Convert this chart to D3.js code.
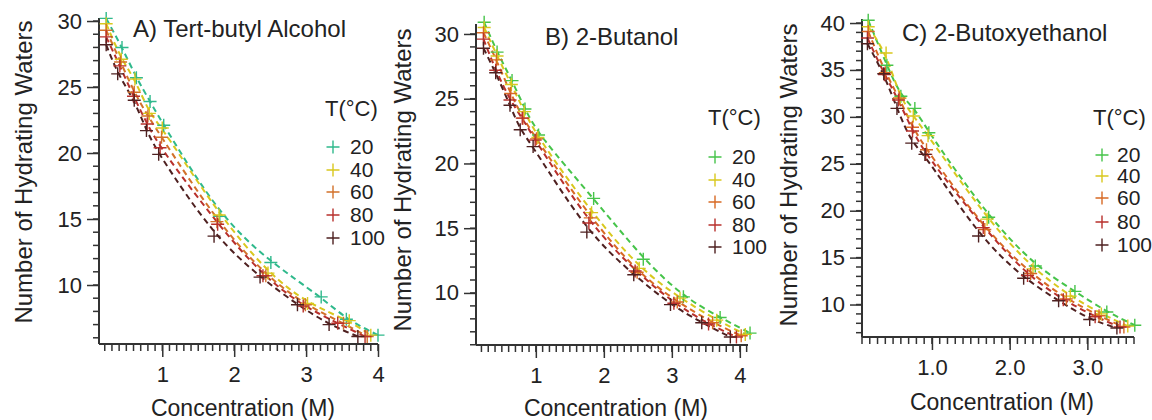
<!DOCTYPE html>
<html>
<head>
<meta charset="utf-8">
<script src="https://cdn.jsdelivr.net/npm/d3@7"></script>
<style>
  body { margin: 0; background: #fff; }
  text { font-family: "Liberation Sans", Arial, sans-serif; fill: #222; }
</style>
</head>
<body>
<div id="chart"></div>
<script>
// Temperatures (legend) and data for each panel: one array per temperature
const temps = [20, 40, 60, 80, 100];

// A) Tert-butyl Alcohol
const tbaConc = [
  [0.22, 0.44, 0.64, 0.83, 1.02, 1.80, 2.51, 3.21, 3.56, 4.00],
  [0.22, 0.43, 0.62, 0.82, 1.00, 1.79, 2.47, 3.02, 3.60, 3.90],
  [0.22, 0.42, 0.61, 0.80, 0.99, 1.76, 2.44, 2.99, 3.52, 3.85],
  [0.22, 0.41, 0.60, 0.79, 0.97, 1.77, 2.40, 2.96, 3.44, 3.82],
  [0.22, 0.38, 0.61, 0.78, 0.95, 1.72, 2.36, 2.88, 3.32, 3.72]
];
const tbaWaters = [
  [30.2, 28.0, 25.7, 23.9, 22.1, 15.2, 11.7, 9.1, 7.4, 6.2],
  [29.8, 27.1, 25.6, 23.0, 21.9, 15.3, 10.9, 8.6, 7.3, 6.2],
  [29.3, 26.9, 24.6, 22.8, 21.2, 14.8, 10.7, 8.5, 7.1, 6.1],
  [28.8, 26.6, 24.3, 22.2, 20.4, 14.6, 10.7, 8.4, 7.1, 6.1],
  [28.2, 26.0, 24.0, 21.7, 19.9, 13.7, 10.6, 8.5, 7.0, 6.1]
];

// B) 2-Butanol
const butConc = [
  [0.24, 0.43, 0.65, 0.84, 1.04, 1.85, 2.58, 3.17, 3.71, 4.15],
  [0.24, 0.43, 0.64, 0.83, 1.03, 1.82, 2.52, 3.12, 3.66, 4.08],
  [0.23, 0.42, 0.63, 0.81, 1.01, 1.80, 2.49, 3.08, 3.60, 4.02],
  [0.23, 0.41, 0.62, 0.80, 0.99, 1.78, 2.46, 3.03, 3.54, 3.95],
  [0.23, 0.41, 0.62, 0.77, 0.96, 1.75, 2.44, 2.98, 3.44, 3.86]
];
const butWaters = [
  [30.9, 28.6, 26.4, 24.2, 22.2, 17.3, 12.6, 9.7, 8.1, 6.9],
  [30.5, 28.3, 26.1, 24.0, 22.0, 16.2, 11.9, 9.6, 7.9, 6.8],
  [30.1, 28.0, 25.4, 23.5, 21.9, 15.8, 11.6, 9.3, 7.7, 6.7],
  [29.6, 27.2, 24.9, 23.5, 21.8, 15.4, 11.7, 9.2, 7.6, 6.6],
  [28.9, 27.0, 24.5, 22.6, 21.3, 14.7, 11.4, 9.1, 7.7, 6.6]
];

// C) 2-Butoxyethanol
const boeConc = [
  [0.18, 0.42, 0.60, 0.78, 0.96, 1.73, 2.33, 2.84, 3.25, 3.61],
  [0.18, 0.41, 0.59, 0.76, 0.95, 1.71, 2.30, 2.78, 3.18, 3.52],
  [0.18, 0.40, 0.58, 0.75, 0.93, 1.68, 2.27, 2.73, 3.15, 3.47],
  [0.17, 0.39, 0.57, 0.75, 0.92, 1.66, 2.23, 2.69, 3.10, 3.42],
  [0.17, 0.38, 0.55, 0.74, 0.91, 1.60, 2.18, 2.63, 3.03, 3.38]
];
const boeWaters = [
  [40.3, 35.5, 32.2, 30.9, 28.3, 19.3, 14.1, 11.4, 9.2, 7.8],
  [39.6, 36.8, 32.0, 30.1, 28.0, 19.1, 13.8, 10.9, 9.0, 7.7],
  [39.1, 34.7, 32.0, 28.9, 26.5, 18.0, 13.3, 10.6, 8.8, 7.6],
  [38.4, 34.5, 31.8, 28.5, 26.0, 18.2, 13.1, 10.5, 8.7, 7.6],
  [37.8, 34.6, 30.9, 27.2, 26.0, 17.3, 12.8, 10.4, 8.4, 7.5]
];

// Colors per temperature
const colorsA = ["#2fb98c", "#d9c81e", "#d2712a", "#b8302c", "#4e2020"];
const colorsBC = ["#46c44a", "#d9c81e", "#d86a24", "#b8302c", "#4e2020"];

const width = 1152, height = 420;
const svg = d3.select("#chart").append("svg")
    .attr("width", width)
    .attr("height", height);

const panels = [
  {
    title: "A) Tert-butyl Alcohol", conc: tbaConc, waters: tbaWaters, colors: colorsA,
    xDomain: [0.12, 4.0], xRange: [99, 378], yDomain: [5.53, 30.23], yRange: [344, 18],
    xMajor: [1, 2, 3, 4], xFmt: d3.format("d"), xMinor: 0.1,
    yMajor: [10, 15, 20, 25, 30], yMinor: 1,
    titlePos: [133, 29], yLabelPos: [24, 172], xLabelPos: [243, 408],
    legend: { x: 325, y: 108, mx: 333, tx: 350, ys: [147, 170, 192, 215, 238] }
  },
  {
    title: "B) 2-Butanol", conc: butConc, waters: butWaters, colors: colorsBC,
    xDomain: [0.12, 4.12], xRange: [476, 748], yDomain: [5.98, 30.77], yRange: [345, 24],
    xMajor: [1, 2, 3, 4], xFmt: d3.format("d"), xMinor: 0.1,
    yMajor: [10, 15, 20, 25, 30], yMinor: 1,
    titlePos: [545, 37], yLabelPos: [403, 180], xLabelPos: [616, 408],
    legend: { x: 708, y: 117, mx: 715, tx: 732, ys: [157, 180, 202, 225, 247] }
  },
  {
    title: "C) 2-Butoxyethanol", conc: boeConc, waters: boeWaters, colors: colorsBC,
    xDomain: [0.1, 3.6], xRange: [862, 1134], yDomain: [6.54, 40.43], yRange: [337, 19],
    xMajor: [1, 2, 3], xFmt: d3.format(".1f"), xMinor: 0.1,
    yMajor: [10, 15, 20, 25, 30, 35, 40], yMinor: 1,
    titlePos: [902, 33], yLabelPos: [789, 175], xLabelPos: [1002, 402],
    legend: { x: 1093, y: 117, mx: 1102, tx: 1117, ys: [155, 176, 198, 222, 245] }
  }
];

const axisColor = "#333";

function range(lo, hi, step) {
  const out = [];
  for (let v = Math.ceil(lo / step - 1e-9) * step; v <= hi + 1e-9; v += step) out.push(+v.toFixed(4));
  return out;
}

function plus(g, x, y, color) {
  const s = 6.5;
  g.append("path")
    .attr("d", `M${x - s},${y}H${x + s}M${x},${y - s}V${y + s}`)
    .attr("stroke", color)
    .attr("stroke-width", 1.4)
    .attr("fill", "none");
}

panels.forEach(p => {
  const g = svg.append("g");
  const x = d3.scaleLinear().domain(p.xDomain).range(p.xRange);
  const y = d3.scaleLinear().domain(p.yDomain).range(p.yRange);
  const x0 = p.xRange[0], yB = p.yRange[0];

  // x axis: major + minor ticks
  const xAx = g.append("g").attr("transform", `translate(0,${yB})`);
  xAx.call(d3.axisBottom(x).tickValues(p.xMajor).tickFormat(p.xFmt).tickSize(13).tickPadding(9));
  xAx.selectAll(".tick.minor").data(range(p.xDomain[0], p.xDomain[1], p.xMinor))
    .enter().append("line")
    .attr("x1", d => x(d)).attr("x2", d => x(d))
    .attr("y1", 0).attr("y2", 7)
    .attr("stroke", axisColor).attr("stroke-width", 1.5);

  // y axis
  const yAx = g.append("g").attr("transform", `translate(${x0},0)`);
  yAx.call(d3.axisLeft(y).tickValues(p.yMajor).tickFormat(d3.format("d")).tickSize(12).tickPadding(5));
  yAx.selectAll(".tick.minor").data(range(p.yDomain[0], p.yDomain[1], p.yMinor))
    .enter().append("line")
    .attr("y1", d => y(d)).attr("y2", d => y(d))
    .attr("x1", 0).attr("x2", -6)
    .attr("stroke", axisColor).attr("stroke-width", 1.5);

  [xAx, yAx].forEach(a => {
    a.select(".domain").attr("stroke", axisColor).attr("stroke-width", 2)
      .attr("d", a === xAx ? `M${p.xRange[0]},0H${p.xRange[1]}` : `M0,${p.yRange[0]}V${p.yRange[1]}`);
    a.selectAll(".tick line").attr("stroke", axisColor).attr("stroke-width", 1.5);
    a.selectAll(".tick text").style("font-size", "22px").attr("fill", "#222");
  });

  // dashed curves and markers per temperature
  const line = d3.line().curve(d3.curveBasis).x(d => x(d[0])).y(d => y(d[1]));
  p.conc.forEach((cs, i) => {
    const pts = cs.map((c, j) => [c, p.waters[i][j]]);
    g.append("path")
      .attr("d", line(pts))
      .attr("fill", "none")
      .attr("stroke", p.colors[i])
      .attr("stroke-width", 2)
      .attr("stroke-dasharray", "6,4");
  });
  p.conc.forEach((cs, i) => {
    cs.forEach((c, j) => plus(g, x(c), y(p.waters[i][j]), p.colors[i]));
  });

  // labels
  g.append("text")
    .attr("x", p.titlePos[0]).attr("y", p.titlePos[1])
    .attr("dy", "0.35em")
    .style("font-size", "24px")
    .text(p.title);

  g.append("text")
    .attr("transform", `translate(${p.yLabelPos[0]},${p.yLabelPos[1]}) rotate(-90)`)
    .attr("text-anchor", "middle")
    .attr("dy", "0.35em")
    .style("font-size", "24px")
    .text("Number of Hydrating Waters");

  g.append("text")
    .attr("x", p.xLabelPos[0]).attr("y", p.xLabelPos[1])
    .attr("text-anchor", "middle")
    .attr("dy", "0.35em")
    .style("font-size", "23px")
    .text("Concentration (M)");

  // legend
  const L = p.legend;
  g.append("text")
    .attr("x", L.x).attr("y", L.y)
    .attr("dy", "0.35em")
    .style("font-size", "22px")
    .text("T(°C)");
  temps.forEach((t, i) => {
    plus(g, L.mx, L.ys[i], p.colors[i]);
    g.append("text")
      .attr("x", L.tx).attr("y", L.ys[i])
      .attr("dy", "0.35em")
      .style("font-size", "21px")
      .text(t);
  });
});
</script>
</body>
</html>
